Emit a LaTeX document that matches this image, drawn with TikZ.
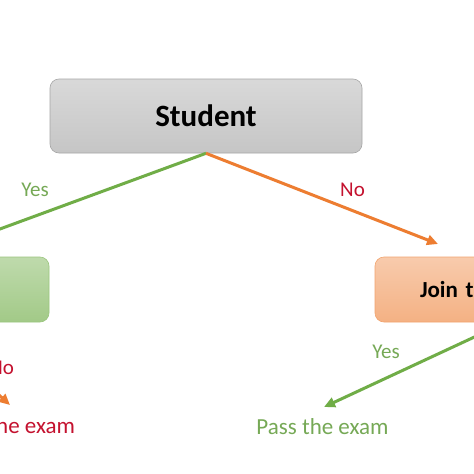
\documentclass[tikz,border=0pt]{standalone}
\usepackage{fontspec}
\setmainfont{Carlito}
\usepackage{xcolor}
\usetikzlibrary{arrows.meta}

\definecolor{yesgreen}{HTML}{70AD47}
\definecolor{noorange}{HTML}{ED7D31}
\definecolor{yestext}{HTML}{76A956}
\definecolor{notext}{HTML}{C4122F}

\begin{document}
\begin{tikzpicture}[x=1pt, y=-1pt, >={Triangle[length=11pt,width=10pt]}, inner sep=0pt,
    box/.style={draw, line width=0.6pt, rounded corners=9pt, minimum width=262pt, minimum height=65pt},
    graybox/.style={box, draw=gray!70, top color=gray!30, bottom color=gray!45},
    greenbox/.style={box, draw=yesgreen!70, top color=yesgreen!45, bottom color=yesgreen!65},
    orangebox/.style={box, draw=noorange!70, top color=noorange!40, bottom color=noorange!60},
    yesline/.style={->, draw=yesgreen, line width=3pt},
    noline/.style={->, draw=noorange, line width=3pt},
    yeslabel/.style={text=yestext, font=\fontsize{21}{24}\selectfont},
    nolabel/.style={text=notext, font=\fontsize{21}{24}\selectfont},
    result/.style={font=\fontsize{23}{27}\selectfont}]

  \useasboundingbox (0,0) rectangle (474,474);
  \fill[white] (0,0) rectangle (474,474);
  \clip (0,0) rectangle (474,474);

  % boxes
  \node[graybox, minimum width=312pt, minimum height=74pt, font=\bfseries\fontsize{31}{36}\selectfont] (student) at (206,116) {Student};
  \node[greenbox] (yesbox) at (-82,289.5) {};
  \node[orangebox, text width=172pt, align=left, inner xsep=45pt, font=\bfseries\fontsize{23}{26}\selectfont] (joinbox) at (506,289.5) {Join t};

  % free ends of the arrows
  \coordinate (yestip) at (-30,240);
  \coordinate (notip) at (438,244);
  \coordinate (passtip) at (324,407);
  \coordinate (failtip) at (10,405);

  % results
  \node[result, text=yestext, anchor=base] (pass) at (322.5,434) {Pass the exam};
  \node[result, text=notext, anchor=base west] (fail) at (-4,433) {he exam};

  \path
  (student.south) edge[yesline] (yestip)
  (student.south) edge[noline] (notip)
  (joinbox.south) edge[yesline] (passtip)
  (yesbox.south) edge[noline] (failtip);

  % labels
  \node[yeslabel] (yes1) at (35,190) {Yes};
  \node[nolabel] (no1) at (352.5,190) {No};
  \node[yeslabel] (yes2) at (386,352) {Yes};
  \node[nolabel] (no2) at (1.7,368) {No};
\end{tikzpicture}
\end{document}
